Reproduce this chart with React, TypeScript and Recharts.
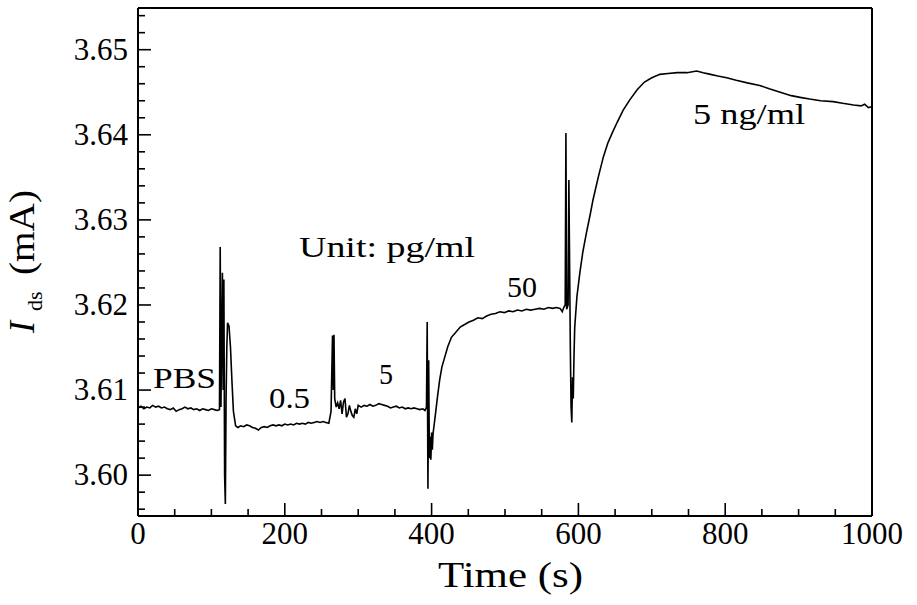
import React from 'react'
import { LineChart, Line, XAxis, YAxis, ReferenceLine } from 'recharts'

// readings taken off the trace, [time (s), Ids (mA)]
const pbs: number[][] = [
  [0, 3.6079], [4, 3.6081], [8, 3.6078], [12, 3.608], [16, 3.6079], [20, 3.6082],
  [24, 3.608], [28, 3.6081], [32, 3.6079], [36, 3.608], [40, 3.6078], [44, 3.6077],
  [48, 3.6079], [52, 3.6075], [56, 3.6077], [60, 3.6078], [64, 3.608], [68, 3.6078],
  [72, 3.6079], [76, 3.6077], [80, 3.6078], [84, 3.6076], [88, 3.6078], [92, 3.6077],
  [96, 3.6076], [100, 3.6078], [104, 3.6077], [108, 3.6076], [111, 3.6077]
]

const dose05: number[][] = [
  [112, 3.6268], [113, 3.608], [115, 3.6238], [116, 3.61], [117, 3.623], [118, 3.6],
  [119, 3.5966], [120, 3.609], [121, 3.615], [122, 3.6179], [124, 3.6175], [126, 3.615],
  [128, 3.611], [130, 3.6075], [133, 3.6058], [136, 3.6056], [140, 3.6058], [144, 3.6057],
  [148, 3.6059], [152, 3.6058], [156, 3.6056], [160, 3.6055], [164, 3.6053], [168, 3.6056],
  [172, 3.6057], [176, 3.6056], [180, 3.6058], [184, 3.6059], [188, 3.6058], [192, 3.6059],
  [196, 3.6058], [200, 3.606], [204, 3.6059], [208, 3.606], [212, 3.6059], [216, 3.6061],
  [220, 3.606], [224, 3.6061], [228, 3.606], [232, 3.6062], [236, 3.6061], [240, 3.6062],
  [244, 3.6063], [248, 3.6062], [252, 3.6063], [256, 3.6062], [260, 3.6061]
]

const dose5: number[][] = [
  [263, 3.6075], [265, 3.6164], [266, 3.61], [267, 3.6165], [268, 3.609], [270, 3.608],
  [272, 3.6085], [274, 3.6078], [276, 3.6088], [278, 3.6072], [280, 3.6086], [282, 3.609],
  [284, 3.6068], [286, 3.6072], [288, 3.6082], [290, 3.6075], [292, 3.607], [294, 3.6068],
  [296, 3.6078], [298, 3.6072], [300, 3.6082], [304, 3.608], [308, 3.6082], [312, 3.6081],
  [316, 3.6083], [320, 3.6081], [324, 3.6082], [328, 3.6084], [332, 3.6083], [336, 3.6082],
  [340, 3.6081], [344, 3.6079], [348, 3.608], [352, 3.6081], [356, 3.6079], [360, 3.608],
  [364, 3.6078], [368, 3.6079], [372, 3.6078], [376, 3.6079], [380, 3.6078], [384, 3.6077],
  [388, 3.6078], [391, 3.6076]
]

const dose50: number[][] = [
  [393, 3.608], [394, 3.618], [395, 3.5984], [396, 3.6135], [397, 3.602], [398, 3.6045],
  [399, 3.6018], [400, 3.605], [401, 3.603], [402, 3.6049], [405, 3.607], [408, 3.6092],
  [411, 3.6112], [414, 3.6127], [418, 3.6139], [422, 3.6151], [427, 3.6162], [433, 3.6168],
  [439, 3.6174], [445, 3.6177], [451, 3.618], [457, 3.6182], [463, 3.6185], [469, 3.6184],
  [475, 3.6187], [481, 3.6189], [487, 3.619], [493, 3.6192], [499, 3.6191], [505, 3.6193],
  [511, 3.6192], [517, 3.6194], [523, 3.6193], [529, 3.6195], [535, 3.6194], [541, 3.6195],
  [547, 3.6196], [553, 3.6195], [559, 3.6197], [565, 3.6196], [570, 3.6197], [575, 3.6196],
  [578, 3.6192], [580, 3.6197]
]

const dose5ng: number[][] = [
  [582, 3.62], [583, 3.6402], [584, 3.6195], [586, 3.62], [587, 3.6347], [588, 3.625],
  [589, 3.615], [590, 3.608], [591, 3.6062], [592, 3.6115], [593, 3.609], [594, 3.614],
  [595, 3.6174], [598, 3.621], [602, 3.6238], [606, 3.6262], [611, 3.6285], [616, 3.6306],
  [620, 3.6324], [627, 3.635], [634, 3.6374], [640, 3.639], [646, 3.6402], [653, 3.6415],
  [661, 3.6429], [670, 3.6441], [680, 3.6453], [690, 3.6462], [700, 3.6467], [711, 3.6471],
  [722, 3.6472], [735, 3.6473], [748, 3.6473], [761, 3.6475], [770, 3.6473], [780, 3.6471],
  [790, 3.6469], [802, 3.6467], [815, 3.6464], [830, 3.6461], [847, 3.6458], [860, 3.6454],
  [875, 3.645], [890, 3.6446], [902, 3.6444], [915, 3.6442], [930, 3.644], [947, 3.6439],
  [960, 3.6437], [975, 3.6435], [985, 3.6434], [990, 3.6436], [995, 3.6432], [1000, 3.6433]
]

const xTicks = [0, 50, 100, 150, 200, 250, 300, 350, 400, 450, 500, 550, 600, 650, 700, 750, 800, 850, 900, 950, 1000]
const xMajor = [0, 200, 400, 600, 800, 1000]
const yTicks = [
  3.596, 3.598, 3.6, 3.602, 3.604, 3.606, 3.608, 3.61, 3.612, 3.614, 3.616, 3.618,
  3.62, 3.622, 3.624, 3.626, 3.628, 3.63, 3.632, 3.634, 3.636, 3.638, 3.64, 3.642,
  3.644, 3.646, 3.648, 3.65, 3.652, 3.654
]
const yMajor = [3.6, 3.61, 3.62, 3.63, 3.64, 3.65]

// w = width the label takes in the figure (its font is wider than Times)
const notes = [
  { text: 'PBS', x: 153, y: 388, w: 63 },
  { text: '0.5', x: 269, y: 408, w: 41 },
  { text: '5', x: 379, y: 384, w: 14 },
  { text: 'Unit: pg/ml', x: 299, y: 257, w: 176 },
  { text: '50', x: 507, y: 297, w: 30 },
  { text: '5 ng/ml', x: 693, y: 124, w: 112 }
]

const data = [...pbs, ...dose05, ...dose5, ...dose50, ...dose5ng].map(([t, v]) => ({ t, v }))

const serif = { fontFamily: 'Liberation Serif, DejaVu Serif, serif' }
const Y_MIN = 3.5952
const Y_MAX = 3.6549

const XTick = (props: any) => {
  const { x, y, payload } = props
  const major = xMajor.includes(payload.value)
  return (
    <g>
      <line x1={x} x2={x} y1={y} y2={y - (major ? 13 : 7)} stroke="#000" strokeWidth={1.6} />
      {major && (
        <text x={x} y={y + 28} textAnchor="middle" style={serif} fontSize={31} fill="#000">
          {payload.value}
        </text>
      )}
    </g>
  )
}

const YTick = (props: any) => {
  const { x, y, payload } = props
  const major = yMajor.some((m) => Math.abs(m - payload.value) < 1e-6)
  return (
    <g>
      <line x1={x} x2={x + (major ? 13 : 7)} y1={y} y2={y} stroke="#000" strokeWidth={1.6} />
      {major && (
        <text x={x - 10} y={y + 10} textAnchor="end" style={serif} fontSize={31} fill="#000">
          {payload.value.toFixed(2)}
        </text>
      )}
    </g>
  )
}

export default function App() {
  return (
    <div style={{ position: 'absolute', left: 0, top: 0, width: 917, height: 605, background: '#fff' }}>
      <LineChart width={917} height={605} data={data} margin={{ top: 8, right: 45, bottom: 0, left: 0 }}>
        <XAxis
          dataKey="t"
          type="number"
          domain={[0, 1000]}
          ticks={xTicks}
          interval={0}
          height={89}
          tickSize={0}
          tickMargin={0}
          tickLine={false}
          axisLine={{ stroke: '#000', strokeWidth: 2 }}
          tick={<XTick />}
        />
        <YAxis
          type="number"
          domain={[Y_MIN, Y_MAX]}
          ticks={yTicks}
          interval={0}
          width={138}
          tickSize={0}
          tickMargin={0}
          tickLine={false}
          axisLine={{ stroke: '#000', strokeWidth: 2 }}
          tick={<YTick />}
          allowDataOverflow
        />
        <ReferenceLine y={Y_MAX} stroke="#000" strokeWidth={2} />
        <ReferenceLine x={1000} stroke="#000" strokeWidth={2} />
        <Line
          dataKey="v"
          type="linear"
          stroke="#000"
          strokeWidth={1.6}
          dot={false}
          isAnimationActive={false}
        />
      </LineChart>
      <svg width={917} height={605} style={{ position: 'absolute', left: 0, top: 0, pointerEvents: 'none' }}>
        <g fill="#000">
          {notes.map((n) => (
            <text
              key={n.text}
              x={n.x}
              y={n.y}
              fontSize={30}
              style={serif}
              textLength={n.w}
              lengthAdjust="spacingAndGlyphs"
            >
              {n.text}
            </text>
          ))}
          <text
            x={438}
            y={587}
            fontSize={35}
            style={serif}
            textLength={145}
            lengthAdjust="spacingAndGlyphs"
          >
            Time (s)
          </text>
          <g transform="translate(34,335) rotate(-90)">
            <text x={2} y={0} fontSize={36} fontStyle="italic" style={serif}>
              I
            </text>
            <text x={24} y={8} fontSize={22} style={serif}>
              ds
            </text>
            <text x={60} y={0} fontSize={35} style={serif} textLength={85} lengthAdjust="spacingAndGlyphs">
              (mA)
            </text>
          </g>
        </g>
      </svg>
    </div>
  )
}
